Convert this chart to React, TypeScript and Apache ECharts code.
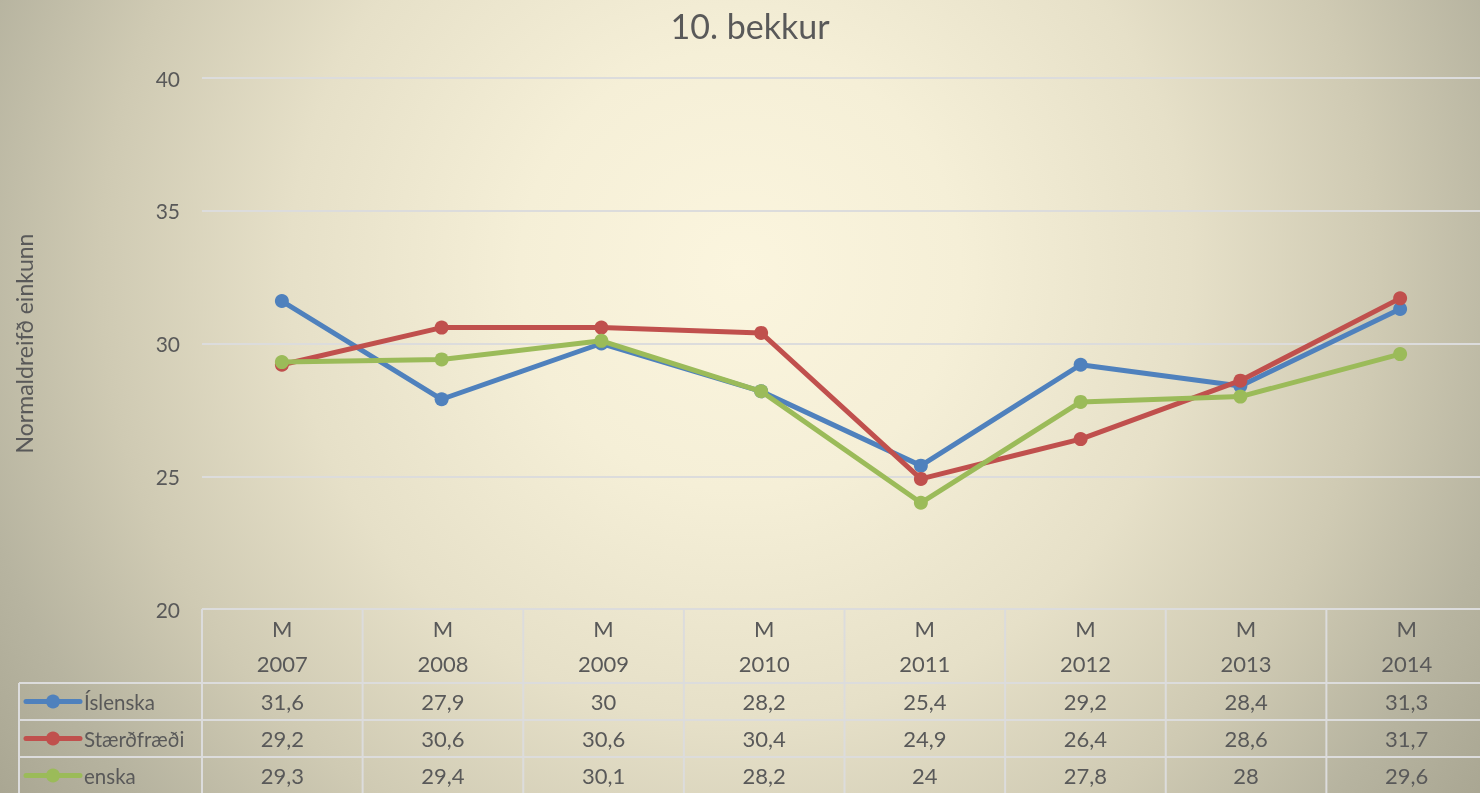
import React, { useEffect, useRef } from "react";
import * as echarts from "echarts";

const titleText = "10. bekkur";
const yAxisName = "Normaldreifð einkunn";
const headerPrefix = "M";
const years = ["2007", "2008", "2009", "2010", "2011", "2012", "2013", "2014"];
const seriesNames = ["Íslenska", "Stærðfræði", "enska"];
const islenska = [31.6, 27.9, 30, 28.2, 25.4, 29.2, 28.4, 31.3];
const staerdfraedi = [29.2, 30.6, 30.6, 30.4, 24.9, 26.4, 28.6, 31.7];
const enska = [29.3, 29.4, 30.1, 28.2, 24, 27.8, 28, 29.6];
const yMin = 20;
const yMax = 40;
const yInterval = 5;

const seriesData = [islenska, staerdfraedi, enska];
const colors = ["#4f81bd", "#c0504d", "#9bbb59"];

const W = 1480;
const H = 793;
const gridLeft = 202;
const gridTop = 78;
const gridWidth = 1285;
const gridBottomY = 609;
const rowYs = [683, 720, 757, 794];
const tableLeft = 19;
const textColor = "#595959";
const lineColor = "#dcdcdc";
const FONT = "Lato, 'Open Sans', sans-serif";

const fmt = (v: number) => String(v).replace(".", ",");

function txt(text: string, x: number, y: number, size: number, align: string) {
  return {
    type: "text",
    silent: true,
    style: {
      text,
      x,
      y,
      fill: textColor,
      fontSize: size,
      fontFamily: FONT,
      align,
      verticalAlign: "middle",
      textAlign: align,
      textVerticalAlign: "middle",
    },
  };
}

function ln(x1: number, y1: number, x2: number, y2: number) {
  return {
    type: "line",
    silent: true,
    shape: { x1, y1, x2, y2 },
    style: { stroke: lineColor, lineWidth: 2 },
  };
}

export default function App() {
  const ref = useRef<HTMLDivElement>(null);

  useEffect(() => {
    if (!ref.current) return;
    const chart = echarts.init(ref.current, null, { renderer: "svg" });
    const colW = gridWidth / years.length;
    const graphics: any[] = [];

    // table lines
    graphics.push(ln(gridLeft, gridBottomY, W, gridBottomY));
    for (let i = 0; i < rowYs.length - 1; i++) {
      graphics.push(ln(tableLeft, rowYs[i], W, rowYs[i]));
    }
    graphics.push(ln(tableLeft, rowYs[0], tableLeft, H));
    for (let i = 0; i <= years.length; i++) {
      const x = gridLeft + i * colW;
      if (x < W) graphics.push(ln(x, gridBottomY, x, H));
    }
    // header
    years.forEach((yr, i) => {
      const cx = gridLeft + (i + 0.5) * colW;
      graphics.push(txt(headerPrefix, cx, 628, 22, "center"));
      graphics.push(txt(yr, cx, 663, 22, "center"));
    });
    // rows
    seriesData.forEach((arr, r) => {
      const cy = (rowYs[r] + rowYs[r + 1]) / 2;
      graphics.push({
        type: "line",
        silent: true,
        shape: { x1: 26, y1: cy, x2: 80, y2: cy },
        style: { stroke: colors[r], lineWidth: 5, lineCap: "round" },
      });
      graphics.push({
        type: "circle",
        silent: true,
        shape: { cx: 53, cy, r: 7 },
        style: { fill: colors[r] },
      });
      graphics.push(txt(seriesNames[r], 84, cy, 20.5, "left"));
      arr.forEach((v, i) => {
        const cx = gridLeft + (i + 0.5) * colW;
        graphics.push(txt(fmt(v), cx, cy, 22, "center"));
      });
    });

    chart.setOption({
      animation: false,
      backgroundColor: "transparent",
      textStyle: { fontFamily: FONT },
      title: {
        text: titleText,
        left: 745,
        textAlign: "center",
        top: 3,
        textStyle: { color: textColor, fontSize: 34, fontWeight: "normal", fontFamily: FONT },
      },
      grid: { left: gridLeft, top: gridTop, width: gridWidth, height: gridBottomY - gridTop, containLabel: false },
      xAxis: {
        type: "category",
        data: years,
        boundaryGap: true,
        axisLine: { show: false },
        axisTick: { show: false },
        axisLabel: { show: false },
        splitLine: { show: false },
      },
      yAxis: {
        type: "value",
        min: yMin,
        max: yMax,
        interval: yInterval,
        name: yAxisName,
        nameLocation: "middle",
        nameRotate: 90,
        nameGap: 167,
        nameTextStyle: { color: textColor, fontSize: 23, fontFamily: FONT },
        axisLine: { show: false },
        axisTick: { show: false },
        axisLabel: { color: textColor, fontSize: 21, margin: 22, fontFamily: FONT },
        splitLine: { lineStyle: { color: lineColor, width: 2 } },
      },
      series: seriesData.map((arr, i) => ({
        type: "line",
        name: seriesNames[i],
        data: arr,
        symbol: "circle",
        symbolSize: 14,
        lineStyle: { width: 5, color: colors[i] },
        itemStyle: { color: colors[i] },
        z: 3 + i,
      })),
      graphic: graphics,
    });
    return () => chart.dispose();
  }, []);

  return (
    <div
      ref={ref}
      style={{
        position: "fixed",
        left: 0,
        top: 0,
        width: W,
        height: H,
        background:
          "radial-gradient(circle at 740px 270px, #fbf5de 0px, #f5efd7 220px, #e6e0c8 450px, #cfcab3 640px, #b7b4a0 790px, #a8a591 920px)",
      }}
    />
  );
}
